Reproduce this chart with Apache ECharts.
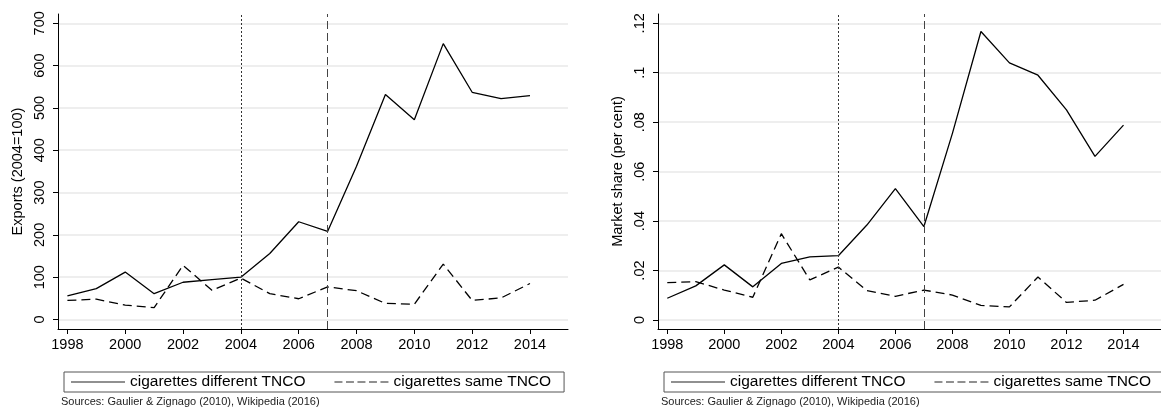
<!DOCTYPE html>
<html>
<head>
<meta charset="utf-8">
<script src="https://cdn.jsdelivr.net/npm/echarts@6/dist/echarts.min.js"></script>
<style>
  html, body { margin: 0; padding: 0; background: #fff; }
  #chart { width: 1161px; height: 410px; }
</style>
</head>
<body>
<div id="chart"></div>
<script>
// Years on the horizontal axis
const years = [1998, 1999, 2000, 2001, 2002, 2003, 2004, 2005, 2006, 2007, 2008, 2009, 2010, 2011, 2012, 2013, 2014];

// Exports index (2004 = 100)
const exportsDifferent = [56, 73, 112, 61, 88, 94, 100, 156, 231, 208, 362, 532, 472, 652, 537, 522, 529];
const exportsSame = [45, 48, 34, 28, 128, 69, 98, 61, 49, 77, 68, 38, 36, 131, 45, 51, 85];

// Market share (per cent)
const shareDifferent = [0.0088, 0.0138, 0.0223, 0.0134, 0.0229, 0.0255, 0.026, 0.0384, 0.0531, 0.0378, 0.0755, 0.1167, 0.104, 0.099, 0.085, 0.0662, 0.0788];
const shareSame = [0.0151, 0.0155, 0.0121, 0.0092, 0.0349, 0.0162, 0.0214, 0.0119, 0.0096, 0.0121, 0.0101, 0.0059, 0.0053, 0.0174, 0.0071, 0.008, 0.0144];

// Tick values
const yearTicks = [1998, 2000, 2002, 2004, 2006, 2008, 2010, 2012, 2014];
const exportTicks = [0, 100, 200, 300, 400, 500, 600, 700];
const shareTicks = [0, 0.02, 0.04, 0.06, 0.08, 0.1, 0.12];

// Policy years marked with vertical lines
const eventDotted = 2004;
const eventDashed = 2007;

const seriesNames = ['cigarettes different TNCO', 'cigarettes same TNCO'];
const sourceNote = 'Sources: Gaulier & Zignago (2010), Wikipedia (2016)';

const FONT = "'Liberation Sans', Arial, Helvetica, sans-serif";
const GRID_COLOR = '#e8e8e8';

// Legend keys: a thin bar (solid) or five short bars (dashed) inside a 54x14 box;
// the tiny corner squares fix the box so the key keeps its proportions.
const BOX = 'M0,0h0.01v0.01h-0.01z M53.99,13.99h0.01v0.01h-0.01z ';
const ICON_SOLID = 'path://' + BOX + 'M0,6.4h54v1.2h-54z';
const ICON_DASHED = 'path://' + BOX + [0, 11.5, 23, 34.5, 46].map(x => 'M' + x + ',6.4h8v1.2h-8z').join(' ');

function pairs(xs, ys) {
  return xs.map((x, i) => [x, ys[i]]);
}

// Stata-style numbers: .02 instead of 0.02
function shortNum(v) {
  if (v === 0) return '0';
  return String(+v.toFixed(4)).replace(/^0\./, '.');
}

function makeXAxis(gridIndex) {
  return {
    type: 'value',
    gridIndex: gridIndex,
    min: 1997.675,
    max: 2015.315,
    axisLine: { show: true, onZero: false, lineStyle: { color: '#000', width: 1 } },
    axisTick: { show: true, length: 5, lineStyle: { color: '#000' }, customValues: yearTicks },
    axisLabel: { color: '#000', fontFamily: FONT, fontSize: 14.5, margin: 8, customValues: yearTicks, formatter: v => String(v) },
    splitLine: { show: false }
  };
}

function makeYAxis(gridIndex, min, max, ticks, name, fmt) {
  return {
    type: 'value',
    gridIndex: gridIndex,
    min: min,
    max: max,
    name: name,
    nameLocation: 'middle',
    nameGap: 33,
    nameRotate: 90,
    nameTextStyle: { color: '#000', fontFamily: FONT, fontSize: 14.5 },
    axisLine: { show: true, onZero: false, lineStyle: { color: '#000', width: 1 } },
    axisTick: { show: true, length: 5, lineStyle: { color: '#000' }, customValues: ticks },
    axisLabel: { color: '#000', fontFamily: FONT, fontSize: 14.5, rotate: 90, margin: 11, customValues: ticks, formatter: fmt },
    splitLine: { show: true, lineStyle: { color: GRID_COLOR, width: 1.5 } }
  };
}

function eventLines() {
  return {
    silent: true,
    symbol: 'none',
    label: { show: false },
    data: [
      { xAxis: eventDotted, lineStyle: { color: '#333', width: 1, type: [2, 2] } },
      { xAxis: eventDashed, lineStyle: { color: '#444', width: 1, type: [8, 4] } }
    ]
  };
}

function makeSeries(idx, different, same) {
  return [
    {
      name: seriesNames[0],
      type: 'line',
      xAxisIndex: idx,
      yAxisIndex: idx,
      data: pairs(years, different),
      symbol: 'none',
      lineStyle: { color: '#000', width: 1.3, type: 'solid' },
      itemStyle: { color: '#000' },
      z: 3,
      markLine: eventLines()
    },
    {
      name: seriesNames[1],
      type: 'line',
      xAxisIndex: idx,
      yAxisIndex: idx,
      data: pairs(years, same),
      symbol: 'none',
      lineStyle: { color: '#000', width: 1.3, type: [9, 5] },
      itemStyle: { color: '#000' },
      z: 3
    }
  ];
}

function makeLegend(left) {
  return {
    left: left,
    top: 372,
    width: 540,
    orient: 'horizontal',
    data: [
      { name: seriesNames[0], icon: ICON_SOLID },
      { name: seriesNames[1], icon: ICON_DASHED }
    ],
    itemWidth: 54,
    itemHeight: 14,
    itemGap: 29,
    padding: [2, 13, 2, 7],
    borderColor: '#555',
    borderWidth: 1,
    selectedMode: false,
    itemStyle: { color: '#222', borderWidth: 0 },
    textStyle: { color: '#000', fontFamily: FONT, fontSize: 15.5 }
  };
}

const chart = echarts.init(document.getElementById('chart'), null, { renderer: 'canvas' });

chart.setOption({
  animation: false,
  backgroundColor: '#fff',
  grid: [
    { left: 58, top: 14, width: 510, height: 315, containLabel: false },
    { left: 658, top: 14, width: 510, height: 315, containLabel: false }
  ],
  xAxis: [makeXAxis(0), makeXAxis(1)],
  yAxis: [
    makeYAxis(0, -22.5, 722, exportTicks, 'Exports (2004=100)', v => String(v)),
    makeYAxis(1, -0.00364, 0.12376, shareTicks, 'Market share (per cent)', shortNum)
  ],
  legend: [makeLegend(64), makeLegend(664)],
  series: makeSeries(0, exportsDifferent, exportsSame).concat(makeSeries(1, shareDifferent, shareSame)),
  graphic: [
    { type: 'text', left: 61, top: 396, style: { text: sourceNote, fill: '#222', font: '11px ' + FONT } },
    { type: 'text', left: 661, top: 396, style: { text: sourceNote, fill: '#222', font: '11px ' + FONT } }
  ]
});
</script>
</body>
</html>
